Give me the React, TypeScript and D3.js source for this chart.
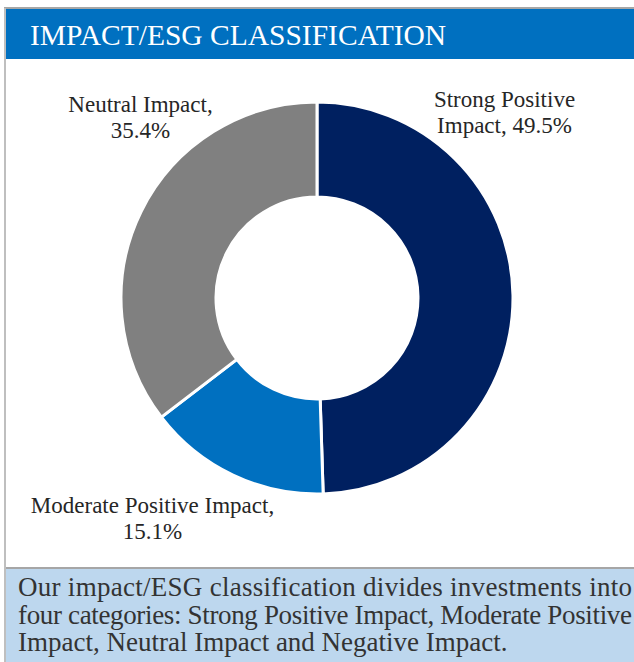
import React from "react";
import * as d3 from "d3";

const categories = ["Strong Positive Impact", "Moderate Positive Impact", "Neutral Impact"];
const values = [49.5, 15.1, 35.4];
const colors = ["#002060", "#0070C0", "#808080"];
const labelLines = [
  ["Strong Positive", "Impact, 49.5%"],
  ["Moderate Positive Impact,", "15.1%"],
  ["Neutral Impact,", "35.4%"],
];
const title = "IMPACT/ESG CLASSIFICATION";
const footerLines = [
  "Our impact/ESG classification divides investments into",
  "four categories: Strong Positive Impact, Moderate Positive",
  "Impact, Neutral Impact and Negative Impact.",
];

const W = 634;
const H = 662;
const cx = 317;
const cy = 298;
const outerR = 196;
const innerR = 101;
// label anchor layout (center x, first baseline y)
const labelLayout = [
  { x: 504.5, y: 107 },
  { x: 152.5, y: 513 },
  { x: 140.5, y: 112 },
];

export default function App() {
  const pie = d3.pie<number>().sort(null).value((d) => d);
  const arcs = pie(values);
  const arcGen = d3.arc<d3.PieArcDatum<number>>().innerRadius(innerR).outerRadius(outerR);
  const serif = "'Liberation Serif', 'Times New Roman', serif";
  const textColor = "#262626";
  return (
    <svg
      width={W}
      height={H}
      style={{ position: "absolute", left: 0, top: 0, background: "#fff" }}
    >
      {/* header */}
      <rect x={5} y={9} width={W - 5} height={50} fill="#0070C0" />
      <line x1={4} x2={W} y1={8} y2={8} stroke="#A6A6A6" strokeWidth={2} />
      <text x={30} y={45} fill="#fff" fontFamily={serif} fontSize={29.5}>
        {title}
      </text>
      {/* donut */}
      <g transform={`translate(${cx},${cy})`}>
        {arcs.map((a, i) => (
          <path key={categories[i]} d={arcGen(a) || ""} fill={colors[i]} stroke="#fff" strokeWidth={3} />
        ))}
      </g>
      {labelLines.map((lines, i) => (
        <text
          key={i}
          x={labelLayout[i].x}
          y={labelLayout[i].y}
          textAnchor="middle"
          fontFamily={serif}
          fontSize={23}
          fill={textColor}
        >
          {lines.map((l, j) => (
            <tspan key={j} x={labelLayout[i].x} dy={j === 0 ? 0 : 26}>
              {l}
            </tspan>
          ))}
        </text>
      ))}
      {/* footer */}
      <rect x={5} y={569} width={W - 5} height={H - 569} fill="#BDD7EE" />
      <line x1={4} x2={W} y1={568} y2={568} stroke="#A6A6A6" strokeWidth={2} />
      {footerLines.map((l, i) => (
        <text
          key={i}
          x={18}
          y={596 + i * 27.5}
          fontFamily={serif}
          fontSize={27}
          fill="#333"
          {...(i < footerLines.length - 1 ? { textLength: 614, lengthAdjust: "spacing" } : {})}
        >
          {l}
        </text>
      ))}
      {/* left border */}
      <line x1={5} x2={5} y1={8} y2={H} stroke="#BFBFBF" strokeWidth={2} />
    </svg>
  );
}
